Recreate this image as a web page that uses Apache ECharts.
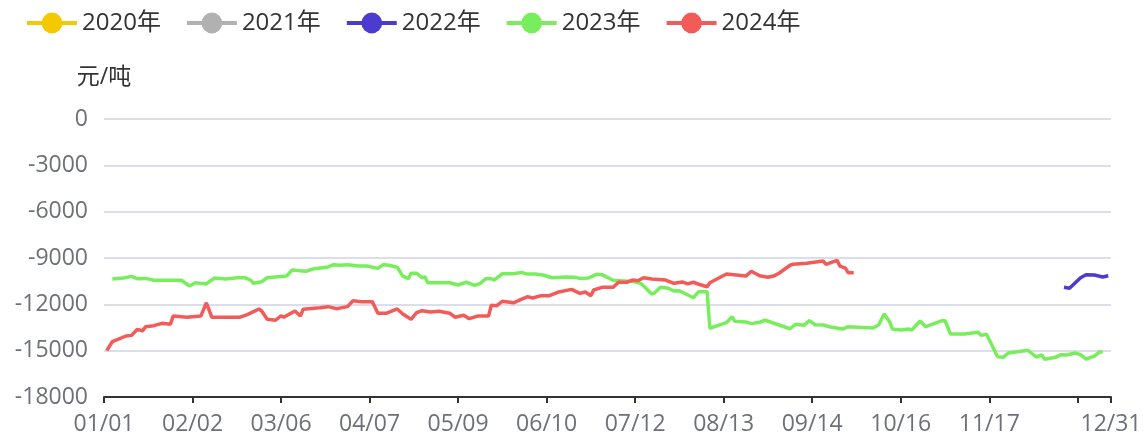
<!DOCTYPE html>
<html>
<head>
<meta charset="utf-8">
<script src="https://cdn.jsdelivr.net/npm/echarts@6/dist/echarts.min.js"></script>
<style>
html,body{margin:0;padding:0;background:#fff;}
#chart{width:1146px;height:439px;}
</style>
</head>
<body>
<div id="chart"></div>
<script>
// ---- data ----
const seriesNames = ['2020年', '2021年', '2022年', '2023年', '2024年'];
const yTicks = [0, -3000, -6000, -9000, -12000, -15000, -18000];
const monthLengths = [31, 28, 31, 30, 31, 30, 31, 31, 30, 31, 30, 31];

const dates2020 = [];
const values2020 = [];
const dates2021 = [];
const values2021 = [];

const dates2022 = ['12/14','12/16','12/20','12/22','12/25','12/28','12/30'];
const values2022 = [-10900,-10960,-10280,-10080,-10100,-10230,-10150];

const dates2023 = ['01/04','01/08','01/11','01/13','01/16','01/19','01/29','01/30','02/01','02/03','02/07','02/08','02/10','02/14','02/18','02/21','02/23','02/24','02/27','03/01',
  '03/08','03/10','03/15','03/18','03/23','03/25','03/27','03/30','04/03','04/06','04/10','04/12','04/14','04/17','04/19','04/21','04/22','04/24','04/26','04/27',
  '04/28','05/06','05/09','05/12','05/15','05/17','05/19','05/21','05/22','05/25','05/29','06/01','06/03','06/06','06/09','06/12','06/17','06/20','06/22','06/25',
  '06/28','06/30','07/04','07/12','07/14','07/18','07/19','07/21','07/24','07/26','07/28','08/02','08/04','08/07','08/08','08/14','08/16','08/17','08/21','08/23',
  '08/26','08/28','09/06','09/08','09/11','09/13','09/15','09/18','09/21','09/25','09/27','10/06','10/08','10/10','10/12','10/13','10/16','10/19','10/20','10/23',
  '10/25','10/31','11/01','11/03','11/08','11/13','11/14','11/16','11/20','11/22','11/24','12/01','12/04','12/06','12/07','12/11','12/13','12/15','12/18','12/20',
  '12/22','12/25','12/27','12/28'];
const values2023 = [-10360,-10300,-10190,-10340,-10320,-10440,-10440,-10570,-10810,-10600,-10680,-10540,-10300,-10360,-10280,-10280,-10430,-10640,-10540,-10280,
  -10170,-9780,-9860,-9690,-9580,-9430,-9470,-9430,-9520,-9520,-9670,-9430,-9470,-9600,-10170,-10340,-9990,-9990,-10280,-10210,
  -10600,-10600,-10750,-10570,-10770,-10640,-10340,-10340,-10430,-10020,-10020,-9930,-10040,-10040,-10120,-10280,-10230,-10250,-10320,-10300,
  -10060,-10080,-10440,-10540,-10640,-11330,-11270,-10900,-10960,-11140,-11120,-11570,-11180,-11180,-13550,-13190,-12800,-13100,-13140,-13250,
  -13160,-13030,-13580,-13290,-13360,-13060,-13320,-13340,-13490,-13600,-13450,-13530,-13340,-12630,-13130,-13600,-13660,-13600,-13660,-13080,
  -13450,-13060,-13060,-13920,-13920,-13810,-14010,-13940,-15390,-15430,-15150,-14980,-15410,-15280,-15560,-15430,-15260,-15280,-15150,-15260,
  -15540,-15350,-15070,-15110];

const dates2024 = ['01/02','01/04','01/09','01/11','01/13','01/15','01/16','01/19','01/22','01/25','01/26','01/31','02/02','02/05','02/07','02/09','02/19','02/22','02/26','02/27',
  '03/01','03/04','03/06','03/07','03/11','03/13','03/14','03/20','03/23','03/26','03/30','04/01','04/04','04/08','04/10','04/13','04/17','04/19','04/22','04/24',
  '04/26','04/29','05/02','05/06','05/08','05/11','05/13','05/16','05/20','05/21','05/23','05/25','05/29','06/01','06/03','06/05','06/08','06/11','06/14','06/19',
  '06/22','06/24','06/26','06/27','06/30','07/04','07/06','07/09','07/11','07/13','07/15','07/18','07/23','07/26','07/29','07/31','08/02','08/04','08/07','08/08',
  '08/14','08/21','08/23','08/26','08/29','08/31','09/02','09/06','09/07','09/12','09/18','09/19','09/23','09/24','09/26','09/27','09/29'];
const values2024 = [-15000,-14420,-14050,-14010,-13620,-13710,-13450,-13380,-13230,-13290,-12760,-12840,-12800,-12760,-11900,-12840,-12840,-12650,-12300,-12430,
  -12970,-13030,-12740,-12840,-12430,-12760,-12320,-12220,-12150,-12280,-12150,-11770,-11830,-11830,-12580,-12580,-12300,-12630,-12970,-12540,
  -12410,-12500,-12450,-12580,-12840,-12710,-12930,-12760,-12760,-12060,-12090,-11800,-11900,-11660,-11510,-11590,-11440,-11440,-11220,-11030,
  -11290,-11200,-11440,-11070,-10900,-10900,-10570,-10570,-10430,-10470,-10280,-10360,-10430,-10640,-10550,-10680,-10570,-10700,-10860,-10600,
  -10040,-10170,-9860,-10150,-10250,-10170,-9990,-9470,-9410,-9340,-9200,-9410,-9150,-9520,-9650,-9950,-9950];

const colors = ['#f5c900', '#b1b1b1', '#4b3bcf', '#78ee5c', '#f25b57'];

// ---- build ----
const categories = [];
monthLengths.forEach((len, m) => {
  for (let d = 1; d <= len; d++) {
    categories.push(String(m + 1).padStart(2, '0') + '/' + String(d).padStart(2, '0'));
  }
});
const lastIdx = categories.length - 1;

function pairs(ds, vs) { return ds.map((d, i) => [d, vs[i]]); }
const allData = [
  pairs(dates2020, values2020),
  pairs(dates2021, values2021),
  pairs(dates2022, values2022),
  pairs(dates2023, values2023),
  pairs(dates2024, values2024)
];

const FONT = '"Open Sans", "Noto Sans CJK SC", sans-serif';

const chart = echarts.init(document.getElementById('chart'), null, { renderer: 'canvas' });
chart.setOption({
  animation: false,
  color: colors,
  textStyle: { fontFamily: FONT },
  legend: {
    data: seriesNames,
    left: 20,
    top: 6,
    itemWidth: 50,
    itemHeight: 26,
    itemGap: 24,
    lineStyle: { width: 4 },
    textStyle: { fontSize: 24, color: '#333', fontFamily: FONT }
  },
  grid: { left: 104, right: 35, top: 119, bottom: 42, containLabel: false },
  xAxis: {
    type: 'category',
    boundaryGap: false,
    data: categories,
    axisLine: { onZero: false, lineStyle: { color: '#333', width: 2 } },
    axisTick: {
      length: 6,
      lineStyle: { width: 2 },
      interval: (i) => i % 32 === 0 || i === lastIdx
    },
    axisLabel: {
      fontSize: 23,
      color: '#6E7079',
      margin: 16,
      fontFamily: FONT,
      interval: (i) => (i % 32 === 0 && i !== 352) || i === lastIdx
    },
    splitLine: { show: false }
  },
  yAxis: {
    type: 'value',
    min: yTicks[yTicks.length - 1],
    max: yTicks[0],
    interval: 3000,
    name: '元/吨',
    nameGap: 30,
    nameTextStyle: { fontSize: 23, color: '#333', fontFamily: FONT },
    axisLine: { show: false },
    axisTick: { show: false },
    axisLabel: { fontSize: 23, color: '#6E7079', margin: 16, fontFamily: FONT, formatter: (v) => String(v) },
    splitLine: { lineStyle: { color: '#dcdfea', width: 2 } }
  },
  series: seriesNames.map((name, i) => ({
    name: name,
    type: 'line',
    data: allData[i],
    showSymbol: false,
    symbol: 'circle',
    lineStyle: { width: 3.5 },
    connectNulls: true
  }))
});
</script>
</body>
</html>
